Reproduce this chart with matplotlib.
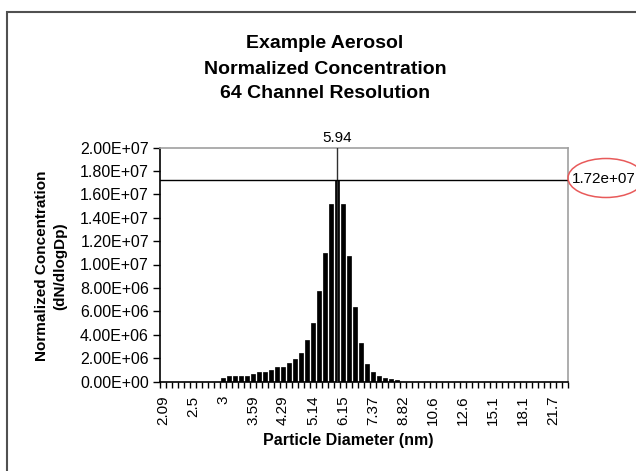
import matplotlib
matplotlib.use("Agg")
import matplotlib.pyplot as plt
from matplotlib.patches import Ellipse, Rectangle
from matplotlib.ticker import FuncFormatter, FixedLocator
import numpy as np

plt.rcParams['font.family'] = ['Liberation Sans', 'DejaVu Sans']

# ---- data ----
n_channels = 68
label_every = 5
tick_labels = ['2.09', '2.5', '3', '3.59', '4.29', '5.14', '6.15', '7.37',
               '8.82', '10.6', '12.6', '15.1', '18.1', '21.7']
# normalized concentration (dN/dlogDp), one per channel
conc = [0, 0, 0, 0, 0, 0, 0, 0, 0, 0,
        0.34e6, 0.46e6, 0.46e6, 0.46e6, 0.46e6, 0.66e6, 0.77e6, 0.77e6, 1.0e6, 1.28e6,
        1.28e6, 1.6e6, 1.9e6, 2.42e6, 3.56e6, 5.0e6, 7.7e6, 11.0e6, 15.2e6, 17.2e6,
        15.2e6, 10.7e6, 6.35e6, 3.28e6, 1.48e6, 0.77e6, 0.46e6, 0.34e6, 0.23e6, 0.14e6,
        0, 0, 0, 0, 0, 0, 0, 0, 0, 0,
        0, 0, 0, 0, 0, 0, 0, 0, 0, 0,
        0, 0, 0, 0, 0, 0, 0, 0]
peak_channel = 29
peak_diam = '5.94'
peak_conc = 1.72e7
y_ticks = [0, 2e6, 4e6, 6e6, 8e6, 1e7, 1.2e7, 1.4e7, 1.6e7, 1.8e7, 2e7]

W, H = 636, 471
fig = plt.figure(figsize=(W / 100, H / 100), dpi=100)
fig.patch.set_facecolor('white')

ax = fig.add_axes([160 / W, 1 - 381.5 / H, 408 / W, 234 / H])
x = np.arange(n_channels)
ax.bar(x, conc, width=0.58, color='black', edgecolor='black', linewidth=0.5, zorder=2)

ax.set_xlim(-0.5, n_channels - 0.5)
ax.set_ylim(0, 2e7)

# x ticks: minor at boundaries (tick marks), major at labels
ax.xaxis.set_minor_locator(FixedLocator(np.arange(-0.5, n_channels, 1.0)))
ax.xaxis.set_major_locator(FixedLocator(np.arange(0, n_channels, label_every)[:len(tick_labels)]))
ax.set_xticklabels(tick_labels, rotation=90, fontsize=11)
ax.tick_params(axis='x', which='major', length=0, pad=10)
ax.tick_params(axis='x', which='minor', length=4, width=1, direction='out', color='black')

ax.set_yticks(y_ticks)
ax.yaxis.set_major_formatter(FuncFormatter(lambda v, p: f"{v:.2E}"))
ax.tick_params(axis='y', length=5, width=1, direction='out', labelsize=11.5, pad=3)

for s in ['left', 'bottom']:
    ax.spines[s].set_color('black')
    ax.spines[s].set_linewidth(1.2)
for s in ['top', 'right']:
    ax.spines[s].set_color('#a0a0a0')
    ax.spines[s].set_linewidth(1.2)

# peak marker lines
ax.axvline(peak_channel, color='#303030', lw=1, zorder=3)
ax.axhline(peak_conc, color='black', lw=1, zorder=3)
ax.text(peak_channel, 2e7 * 1.012, peak_diam, ha='center', va='bottom', fontsize=11)

# right annotation
fig.text(572 / W, 1 - 179 / H, '1.72e+07', ha='left', va='center', fontsize=11)
fig.patches.append(Ellipse((606 / W, 1 - 178 / H), 76 / W, 39 / H, fill=False,
                           edgecolor='#e85a5a', lw=1.1, transform=fig.transFigure))

# titles
fig.text(325 / W, 1 - 43 / H, 'Example Aerosol', ha='center', va='center',
         fontsize=14, fontweight='bold')
fig.text(325 / W, 1 - 69 / H, 'Normalized Concentration', ha='center', va='center',
         fontsize=14, fontweight='bold')
fig.text(325 / W, 1 - 94 / H, '64 Channel Resolution', ha='center', va='center',
         fontsize=14, fontweight='bold')

fig.text(348 / W, 1 - 440 / H, 'Particle Diameter (nm)', ha='center', va='center',
         fontsize=11.5, fontweight='bold')
fig.text(51 / W, 1 - 266 / H, 'Normalized Concentration\n(dN/dlogDp)', ha='center',
         va='center', rotation=90, fontsize=11, fontweight='bold', linespacing=1.4,
         multialignment='center')

# outer chart border
fig.patches.append(Rectangle((7 / W, -0.1), 1.2, 1 - 12 / H + 0.1, fill=False,
                             edgecolor='#505050', lw=1.5, transform=fig.transFigure))

fig.savefig('out.png', dpi=100)
